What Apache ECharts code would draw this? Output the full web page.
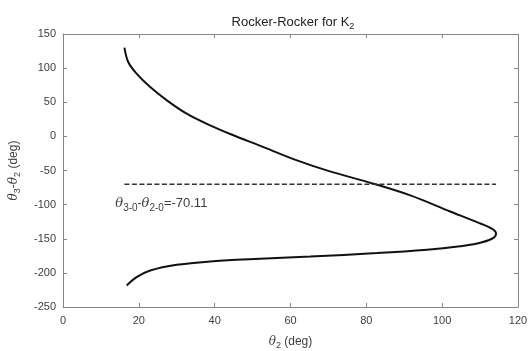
<!doctype html>
<html lang="en">
  <head>
    <meta charset="utf-8">
    <title>Rocker-Rocker for K2</title>
    <script src="https://cdn.jsdelivr.net/npm/echarts@6.0.0/dist/echarts.min.js"></script>
    <style>
      html, body {
        width: 100%;
        height: 100%;
        margin: 0;
        background: #fff;
      }

      #chart {
        width: 530px;
        height: 351px;
      }
    </style>
  </head>
  <body>
    <div id="chart"></div>
    <script>
      // theta2 (deg) and theta3 - theta2 (deg), read along the curve from top end to bottom end
      const theta2 = [16.2, 17.2, 19.4, 23.0, 27.4, 32.6, 38.8, 44.1, 52.9, 61.7, 70.4, 81.9, 91.6, 102.1, 109.2, 113.1, 114.2, 113.1, 109.2, 104.7, 96.0, 82.8, 65.2, 47.6, 38.8, 30.0, 23.0, 19.4, 16.8];
      const theta32 = [130, 109, 92, 72.3, 52.8, 33.3, 16.1, 3.5, -15.7, -35.2, -51.3, -69.4, -86.5, -110, -125.7, -135.3, -142.5, -150, -157, -161, -166, -171, -176, -180.4, -183.3, -188.1, -196.5, -206.3, -218.5];

      const refValue = -70.11;
      const refX = [16.2, 114.2];
      const labelAt = [13.8, -98];

      const xTicks = [0, 20, 40, 60, 80, 100, 120];
      const yTicks = [-250, -200, -150, -100, -50, 0, 50, 100, 150];

      const curve = theta2.map((x, i) => [x, theta32[i]]);
      const refLine = refX.map((x) => [x, refValue]);

      const axisColor = '#858585';
      const textColor = '#3d3d3d';
      const fontFamily = '"Liberation Sans", Arial, sans-serif';

      const baseAxis = {
        type: 'value',
        axisLine: { show: true, onZero: false, lineStyle: { color: axisColor, width: 1 } },
        axisTick: { show: true, inside: true, length: 4, lineStyle: { color: axisColor } },
        splitLine: { show: false },
        axisLabel: { color: textColor, fontSize: 11, fontFamily: fontFamily }
      };

      const nameRich = {
        i: { fontStyle: 'italic', fontSize: 12, fontFamily: '"DejaVu Serif", serif', color: textColor },
        s: { fontSize: 9, color: textColor, fontFamily: fontFamily, padding: [8, 0, 0, 0] }
      };

      const chart = echarts.init(document.getElementById('chart'), null, { renderer: 'canvas' });

      const option = {
        animation: false,
        backgroundColor: '#fff',
        title: {
          text: '{t|Rocker-Rocker for K}{s|2}',
          left: 288,
          textAlign: 'center',
          top: 8,
          textStyle: {
            rich: {
              t: { fontSize: 13, fontWeight: 'normal', color: '#222', fontFamily: fontFamily },
              s: { fontSize: 9, fontWeight: 'normal', color: '#222', fontFamily: fontFamily, padding: [9, 0, 0, 0] }
            }
          }
        },
        grid: { left: 63, right: 12, top: 34, bottom: 44, outerBoundsMode: 'none', containLabel: false },
        xAxis: [
          Object.assign({}, baseAxis, {
            min: xTicks[0],
            max: xTicks[xTicks.length - 1],
            interval: 20,
            name: '{i|θ}{s|2} (deg)',
            nameLocation: 'middle',
            nameGap: 26,
            nameTextStyle: { color: textColor, fontSize: 12, fontFamily: fontFamily, rich: nameRich },
            axisLabel: Object.assign({}, baseAxis.axisLabel, { margin: 8 })
          }),
          Object.assign({}, baseAxis, {
            position: 'top',
            min: xTicks[0],
            max: xTicks[xTicks.length - 1],
            interval: 20,
            axisLabel: { show: false }
          })
        ],
        yAxis: [
          Object.assign({}, baseAxis, {
            min: yTicks[0],
            max: yTicks[yTicks.length - 1],
            interval: 50,
            name: '{i|θ}{s|3}-{i|θ}{s|2} (deg)',
            nameLocation: 'middle',
            nameGap: 41,
            nameTextStyle: { color: textColor, fontSize: 12, fontFamily: fontFamily, rich: nameRich },
            axisLabel: Object.assign({}, baseAxis.axisLabel, { margin: 7 })
          }),
          Object.assign({}, baseAxis, {
            position: 'right',
            min: yTicks[0],
            max: yTicks[yTicks.length - 1],
            interval: 50,
            axisLabel: { show: false }
          })
        ],
        series: [
          {
            type: 'line',
            data: curve,
            symbol: 'none',
            smooth: 0.35,
            lineStyle: { color: '#111', width: 2 },
            z: 3
          },
          {
            type: 'line',
            data: refLine,
            symbol: 'none',
            lineStyle: { color: '#333', width: 1.5, type: [5, 2.5] },
            markPoint: {
              symbol: 'circle',
              symbolSize: 0,
              data: [{
                coord: labelAt,
                label: {
                  show: true,
                  position: 'right',
                  distance: 0,
                  formatter: '{i|θ}{s|3-0}-{i|θ}{s|2-0}{t|=-70.11}',
                  rich: {
                    i: { fontStyle: 'italic', fontSize: 13, fontFamily: '"DejaVu Serif", serif', color: textColor },
                    s: { fontSize: 10, fontFamily: fontFamily, color: textColor, padding: [9, 0, 0, 0] },
                    t: { fontSize: 13, fontFamily: fontFamily, color: textColor }
                  }
                }
              }]
            }
          }
        ]
      };

      chart.setOption(option);
    </script>
  </body>
</html>
